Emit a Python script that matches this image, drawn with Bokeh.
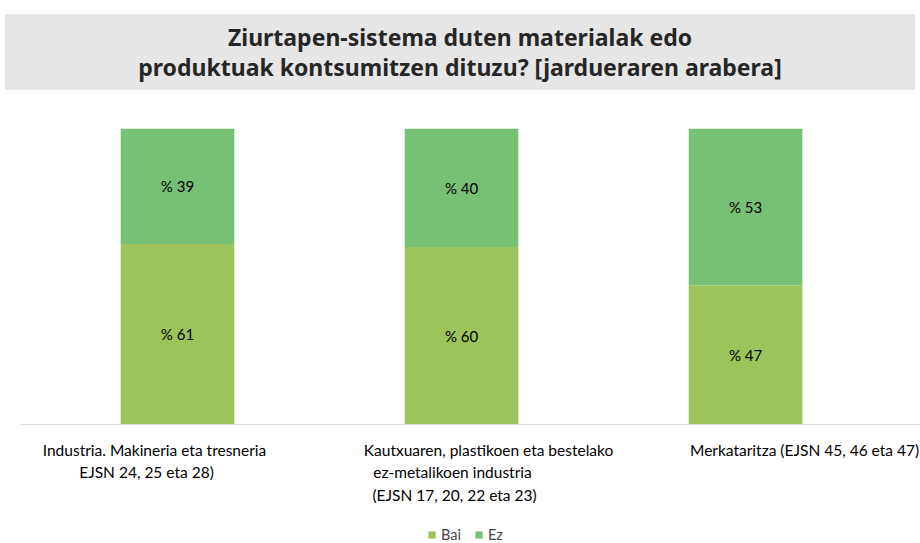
import numpy as np
from bokeh.plotting import figure
from bokeh.models import ColumnDataSource, Range1d, Legend, LegendItem, Div, Span
from bokeh.layouts import column
from bokeh.core.properties import value
from bokeh.embed import file_html
from bokeh.resources import INLINE

# ---- data ----
categories = ["Industria", "Kautxuaren", "Merkataritza"]
category_label_lines = [
    ["Industria. Makineria eta tresneria", "EJSN 24, 25 eta 28)"],
    ["Kautxuaren, plastikoen eta bestelako", "ez-metalikoen industria", "(EJSN 17, 20, 22 eta 23)"],
    ["Merkataritza (EJSN 45, 46 eta 47)"],
]
bai = [61, 60, 47]
ez = [39, 40, 53]
series_names = ["Bai", "Ez"]
title_text = "Ziurtapen-sistema duten materialak edo<br>produktuak kontsumitzen dituzu? [jardueraren arabera]"

# ---- styles ----
COL_BAI = "#9dc35b"
COL_EZ = "#77c174"
FONT = "Lato"
# per-line horizontal offsets (px) of category label lines, mimicking the original
line_x_offsets = [[-23, -31], [27, -9, -7], [59]]
LINE_START = 25
LINE_STEP = 22.5

xpos = np.arange(len(categories))

src = ColumnDataSource(dict(x=xpos, Bai=bai, Ez=ez))

p = figure(
    x_range=Range1d(-0.5528, 2.616),
    y_range=Range1d(-40.2, 100),
    width=920, height=453,
    output_backend="svg", toolbar_location=None,
    min_border_left=20, min_border_right=0, min_border_top=38, min_border_bottom=0,
)
p.outline_line_color = None
p.grid.visible = False
p.axis.visible = False

r = p.vbar_stack(series_names, x="x", width=0.40, source=src,
                 color=[COL_BAI, COL_EZ], line_color=None)

# baseline
p.add_layout(Span(location=0, dimension="width", line_color="#d9d9d9", line_width=1))

# value labels at segment centres
mid_bai = [b / 2 for b in bai]
mid_ez = [b + e / 2 for b, e in zip(bai, ez)]
lab_src = ColumnDataSource(dict(
    x=list(xpos) * 2,
    y=mid_bai + mid_ez,
    t=[f"% {v}" for v in bai] + [f"% {v}" for v in ez],
))
p.text(x="x", y="y", text="t", source=lab_src, text_align="center",
       text_baseline="middle", text_font=value(FONT), text_font_size="15px",
       text_color="#000000")

# category labels (one text per line)
cx, ct, cxo, cyo = [], [], [], []
for i, lines in enumerate(category_label_lines):
    for j, line in enumerate(lines):
        cx.append(xpos[i])
        ct.append(line)
        cxo.append(line_x_offsets[i][j])
        cyo.append(LINE_START + j * LINE_STEP)
cat_src = ColumnDataSource(dict(x=cx, y=[0] * len(cx), t=ct, xo=cxo, yo=cyo))
p.text(x="x", y="y", text="t", source=cat_src, x_offset="xo", y_offset="yo",
       text_align="center", text_baseline="middle", text_font=value(FONT),
       text_font_size="15.5px", text_color="#000000")

legend = Legend(items=[LegendItem(label=series_names[0], renderers=[r[0]]),
                       LegendItem(label=series_names[1], renderers=[r[1]])],
                orientation="horizontal", location=(407, 0),
                padding=0, margin=0, spacing=13, glyph_width=9, glyph_height=9,
                label_standoff=5, label_height=14, label_text_font=FONT,
                label_text_font_size="14.5px",
                background_fill_alpha=0, border_line_color=None)
p.add_layout(legend, "center")

title = Div(text=title_text, width=910, height=76, margin=(14, 5, 0, 5),
            styles={"background-color": "#e6e6e7", "text-align": "center",
                    "font-family": "Noto Sans", "font-weight": "bold",
                    "font-size": "23px", "color": "#262626",
                    "line-height": "30px", "padding-top": "8px",
                    "box-sizing": "border-box", "width": "910px"})

layout = column(title, p, spacing=0)
open("out.html", "w").write(file_html(layout, INLINE))
